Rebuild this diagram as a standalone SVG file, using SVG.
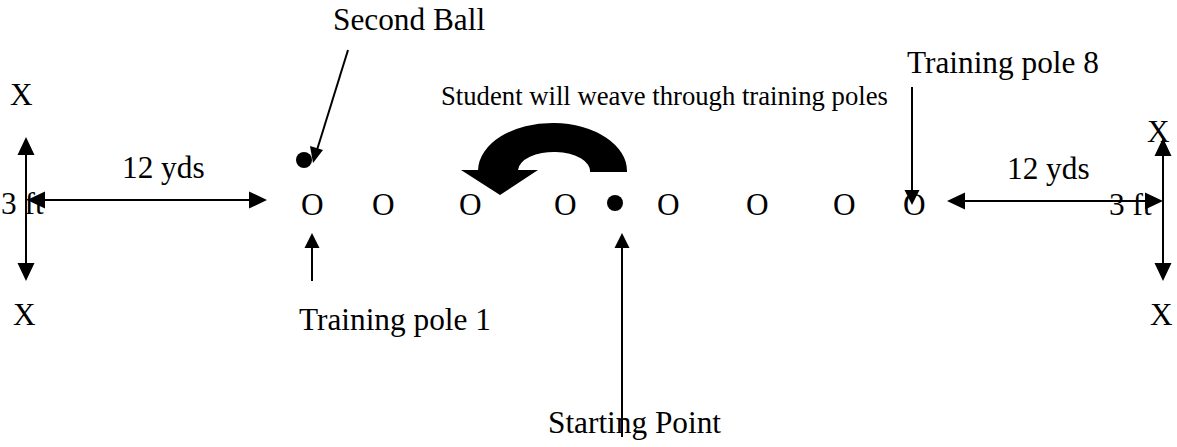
<svg xmlns="http://www.w3.org/2000/svg" width="1177" height="447" viewBox="0 0 1177 447">
<defs>
<style>
text{font-family:"Liberation Serif","Times New Roman",serif;font-size:31.3px;fill:#000}
.small{font-size:26.7px}
.ln{stroke:#000;stroke-width:2;fill:none}
</style>
</defs>
<rect width="1177" height="447" fill="#fff"/>
<g id="connectors">
<path class="ln" d="M26,155 L26,263"/>
<path d="M26,137 L17.5,155 L34.5,155 Z M26,281 L17.5,263 L34.5,263 Z" fill="#000"/>
<path class="ln" d="M44,200 L249,200"/>
<path d="M27,200 L45,191.5 L45,208.5 Z M267,200 L249,191.5 L249,208.5 Z" fill="#000"/>
<path class="ln" d="M1163,156 L1163,263"/>
<path d="M1163,138 L1154.5,156 L1171.5,156 Z M1163,281 L1154.5,263 L1171.5,263 Z" fill="#000"/>
<path class="ln" d="M965,201 L1145,201"/>
<path d="M947,201 L965,192.5 L965,209.5 Z M1163,201 L1145,192.5 L1145,209.5 Z" fill="#000"/>
<path class="ln" d="M312,248 L312,281"/>
<path d="M312,233 L304.5,248 L319.5,248 Z" fill="#000"/>
<path class="ln" d="M622,248 L622,437"/>
<path d="M622,233 L614.5,248 L629.5,248 Z" fill="#000"/>
<path class="ln" d="M912,87 L912,191"/>
<path d="M912,205 L904.5,190 L919.5,190 Z" fill="#000"/>
<path class="ln" d="M348,50 L317,150"/>
<path d="M313,163 L310,146 L323,150 Z" fill="#000"/>
<path d="M478,170 A74.5,48 0 0 1 627,172 L590,172 A36,19 0 0 0 518,170 Z M461,170 L538,170 L500,195 Z" fill="#000"/>
</g>
<g id="second-ball"><circle cx="304" cy="160" r="8" fill="#000"/><text x="333" y="30">Second Ball</text></g>
<g id="start-ball"><circle cx="615" cy="203" r="8" fill="#000"/></g>
<g id="poles">
<text x="301" y="215">O</text>
<text x="372" y="215">O</text>
<text x="459" y="215">O</text>
<text x="554" y="215">O</text>
<text x="657" y="215">O</text>
<text x="746" y="215">O</text>
<text x="833" y="215">O</text>
<text x="903" y="215">O</text>
</g>
<g id="labels">
<text x="10" y="105">X</text>
<text x="13" y="325">X</text>
<text x="1147" y="142">X</text>
<text x="1150" y="325">X</text>
<text x="122" y="178">12 yds</text>
<text x="1007" y="179">12 yds</text>
<text x="1" y="214">3 ft</text>
<text x="1109" y="215">3 ft</text>
<text x="299" y="330">Training pole 1</text>
<text x="907" y="73">Training pole 8</text>
<text x="548" y="433">Starting Point</text>
<text class="small" x="441" y="105">Student will weave through training poles</text>
</g>
</svg>
